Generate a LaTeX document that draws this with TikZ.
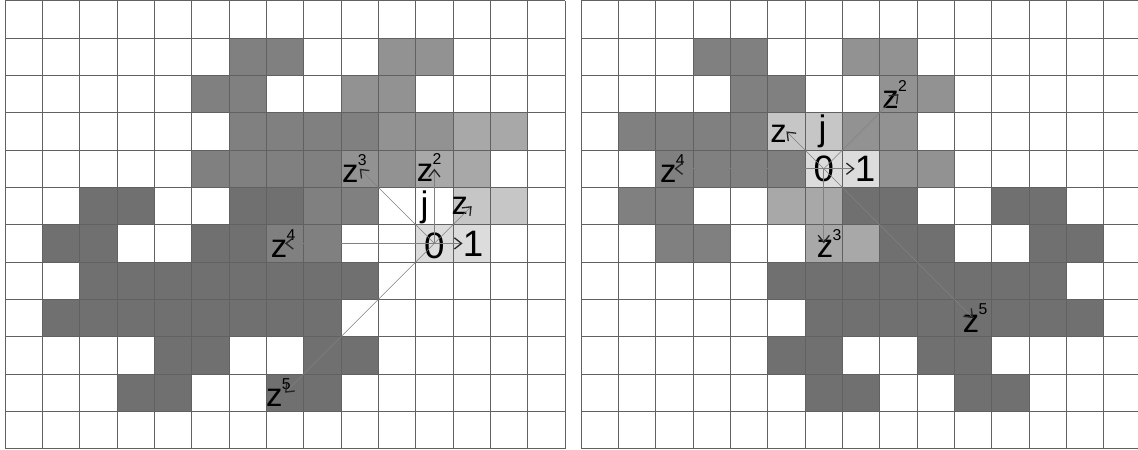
\documentclass[tikz,border=0pt]{standalone}
\usepackage{fontspec}
\setmainfont{Liberation Sans}
\definecolor{shadeA}{HTML}{DCDCDC}
\definecolor{shadeB}{HTML}{C6C6C6}
\definecolor{shadeC}{HTML}{A8A8A8}
\definecolor{shadeD}{HTML}{929292}
\definecolor{shadeE}{HTML}{808080}
\definecolor{shadeF}{HTML}{707070}
\usetikzlibrary{arrows.meta}
\tikzset{
  gline/.style={draw=black!62,line width=0.6pt},
  vec/.style={draw=black!50,line width=0.45pt,
              -{Straight Barb[length=1.9mm,width=3mm,line width=1pt,color=black!85]}},
  num/.style={font=\fontsize{28}{28}\selectfont,inner sep=0pt},
  zl/.style={font=\fontsize{25}{25}\selectfont,inner sep=0pt}
}
\newcommand{\zpow}[1]{z\kern-0.5pt\raisebox{13pt}{\fontsize{12}{12}\selectfont #1}}

\begin{document}
\begin{tikzpicture}
  \useasboundingbox (0,0) rectangle (30.48,12.05);
  \fill[white] (0,0) rectangle (30.48,12.05);

  % left grid, z = 1+j
  \begin{scope}[shift={(11.134,5.03)}]
    \foreach \x/\y in {0/0,1/0}
      \fill[shadeA] (\x,\y) rectangle ++(1,1);
    \foreach \x/\y in {1/1,2/1}
      \fill[shadeB] (\x,\y) rectangle ++(1,1);
    \foreach \x/\y in {0/2,1/2,1/3,2/3}
      \fill[shadeC] (\x,\y) rectangle ++(1,1);
    \foreach \x/\y in {-2/2,-1/2,-1/3,0/3,-2/4,-1/4,-1/5,0/5}
      \fill[shadeD] (\x,\y) rectangle ++(1,1);
    \foreach \x/\y in {-4/0,-3/0,-3/1,-2/1,-4/2,-3/2,-3/3,-2/3,
                       -6/2,-5/2,-5/3,-4/3,-6/4,-5/4,-5/5,-4/5}
      \fill[shadeE] (\x,\y) rectangle ++(1,1);
    \foreach \x/\y in {-4/-4,-3/-4,-3/-3,-2/-3,-4/-2,-3/-2,-3/-1,-2/-1,
                       -6/-2,-5/-2,-5/-1,-4/-1,-6/0,-5/0,-5/1,-4/1,
                       -8/-4,-7/-4,-7/-3,-6/-3,-8/-2,-7/-2,-7/-1,-6/-1,
                       -10/-2,-9/-2,-9/-1,-8/-1,-10/0,-9/0,-9/1,-8/1}
      \fill[shadeF] (\x,\y) rectangle ++(1,1);
    \foreach \i in {-11,...,4}
      \draw[gline] (\i,-5) -- (\i,7);
    \foreach \j in {-5,...,7}
      \draw[gline] (-11,\j) -- (4,\j);

    \coordinate (lo)  at (0.5,0.5);
    \coordinate (l1)  at (1.5,0.5);
    \coordinate (lj)  at (0.5,1.5);
    \coordinate (lz)  at (1.5,1.5);
    \coordinate (lz2) at (0.5,2.5);
    \coordinate (lz3) at (-1.5,2.5);
    \coordinate (lz4) at (-3.5,0.5);
    \coordinate (lz5) at (-3.5,-3.5);

    \node[num,yshift=-1.5pt] (lzero) at (lo) {0};
    \node[num,xshift=1pt]    (lone)  at (l1) {1};
    \node[num,font=\fontsize{27}{27}\selectfont,xshift=-7.5pt,yshift=-1pt] (lj1) at (lj) {j};
    \node[zl,xshift=-9pt]    (lzl)   at (lz) {z};
    \node[zl,xshift=-4pt,yshift=1pt] (lz2l) at (lz2) {\zpow{2}};
    \node[zl,xshift=-4pt]    (lz3l)  at (lz3) {\zpow{3}};
    \node[zl,xshift=-1.5pt]  (lz4l)  at (lz4) {\zpow{4}};
    \node[zl,xshift=-5pt]    (lz5l)  at (lz5) {\zpow{5}};

    \draw[vec] (lo) -- (lone.west);
    \draw[vec] (lo) -- (lz);
    \draw[vec] (lo) -- (lz2);
    \draw[vec] (lo) -- (lz3);
    \draw[vec] (lo) -- (lz4);
    \draw[vec] (lo) -- (lz5);
  \end{scope}

  % right grid, z = -1+j
  \begin{scope}[shift={(21.564,7.03)}]
    \foreach \x/\y in {0/0,1/0}
      \fill[shadeA] (\x,\y) rectangle ++(1,1);
    \foreach \x/\y in {-1/1,0/1}
      \fill[shadeB] (\x,\y) rectangle ++(1,1);
    \foreach \x/\y in {0/-2,1/-2,-1/-1,0/-1}
      \fill[shadeC] (\x,\y) rectangle ++(1,1);
    \foreach \x/\y in {2/2,3/2,1/3,2/3,2/0,3/0,1/1,2/1}
      \fill[shadeD] (\x,\y) rectangle ++(1,1);
    \foreach \x/\y in {-4/0,-3/0,-5/1,-4/1,-4/-2,-3/-2,-5/-1,-4/-1,
                       -2/2,-1/2,-3/3,-2/3,-2/0,-1/0,-3/1,-2/1}
      \fill[shadeE] (\x,\y) rectangle ++(1,1);
    \foreach \x/\y in {4/-4,5/-4,3/-3,4/-3,4/-6,5/-6,3/-5,4/-5,
                       6/-2,7/-2,5/-1,6/-1,6/-4,7/-4,5/-3,6/-3,
                       0/-4,1/-4,-1/-3,0/-3,0/-6,1/-6,-1/-5,0/-5,
                       2/-2,3/-2,1/-1,2/-1,2/-4,3/-4,1/-3,2/-3}
      \fill[shadeF] (\x,\y) rectangle ++(1,1);
    \foreach \i in {-6,...,9}
      \draw[gline] (\i,-7) -- (\i,5);
    \foreach \j in {-7,...,5}
      \draw[gline] (-6,\j) -- (9,\j);

    \coordinate (ro)  at (0.5,0.5);
    \coordinate (r1)  at (1.5,0.5);
    \coordinate (rj)  at (0.5,1.5);
    \coordinate (rz)  at (-0.5,1.5);
    \coordinate (rz2) at (2.5,2.5);
    \coordinate (rz3) at (0.5,-1.5);
    \coordinate (rz4) at (-3.5,0.5);
    \coordinate (rz5) at (4.5,-3.5);

    \node[num]               (rzero) at (ro) {0};
    \node[num,xshift=3pt]    (rone)  at (r1) {1};
    \node[num,font=\fontsize{27}{27}\selectfont,xshift=-1pt] (rj1) at (rj) {j};
    \node[zl,xshift=-6pt,yshift=-1.5pt] (rzl) at (rz) {z};
    \node[zl,xshift=-3pt]    (rz2l)  at (rz2) {\zpow{2}};
    \node[zl,xshift=4pt]     (rz3l)  at (rz3) {\zpow{3}};
    \node[zl,xshift=-1.5pt]  (rz4l)  at (rz4) {\zpow{4}};
    \node[zl,xshift=1.5pt]   (rz5l)  at (rz5) {\zpow{5}};

    \draw[vec] (ro) -- (rone.west);
    \draw[vec] (ro) -- (rz);
    \draw[vec] (ro) -- (rz2);
    \draw[vec] (ro) -- (rz3);
    \draw[vec] (ro) -- (rz4);
    \draw[vec] (ro) -- (rz5);
  \end{scope}
\end{tikzpicture}
\end{document}
